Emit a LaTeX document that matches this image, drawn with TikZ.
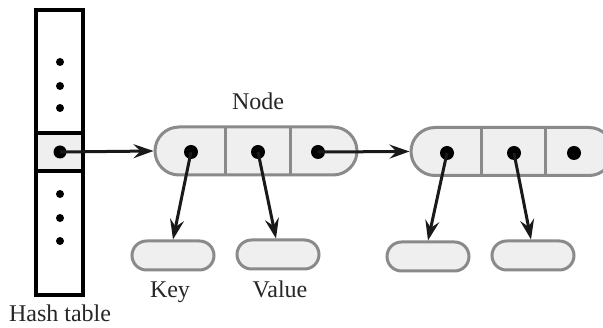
\documentclass[tikz,border=0pt]{standalone}
\usepackage{fontspec}
\setmainfont{Liberation Serif}
\usetikzlibrary{shapes.misc,arrows.meta}
\definecolor{cellfill}{HTML}{EFEFEF}
\definecolor{cellline}{HTML}{8A8A8A}
\tikzset{
  pill/.style={rounded rectangle, draw=cellline, fill=cellfill, line width=3pt, inner sep=0pt, minimum height=#1},
  pill/.default=48pt,
  dotn/.style={circle, fill=black, inner sep=0pt, minimum size=#1},
  arr/.style={line width=3pt, color={black!90}, -{Stealth[length=20pt,width=14pt,inset=7pt]}},
  lbl/.style={font=\fontsize{24}{28}\selectfont, anchor=base, text={black!85}},
  divider/.style={draw=cellline, line width=3pt}
}
\begin{document}
\begin{tikzpicture}[x=1pt,y=-1pt]
\clip (0,0) rectangle (603,328);
\fill[white] (0,0) rectangle (603,328);
% hash table
\node[draw=black, line width=3.5pt, minimum width=47pt, minimum height=285pt, inner sep=0pt] (ht) at (59.5,152.5) {};
\node[draw=black, fill=cellfill, line width=3.5pt, minimum width=47pt, minimum height=38pt, inner sep=0pt] (hc) at (59.5,152) {};
\foreach \y/\n in {62/a,86/b,108/c,194/d,218/e,241/f}
  \node[dotn=8pt] (hd\n) at (60,\y) {};
\node[dotn=13pt] (hd) at (60,152) {};
\node[lbl] (htl) at (60,322) {Hash table};
% node 1
\node[pill, minimum width=202pt] (n1) at (256,151) {};
\draw[divider] (225,127) -- (225,175);
\draw[divider] (290,127) -- (290,175);
\node[dotn=14pt] (d11) at (191,152) {};
\node[dotn=14pt] (d12) at (258,152) {};
\node[dotn=14pt] (d13) at (318,152) {};
\node[lbl] (nl) at (258,110) {Node};
% node 2
\node[pill, minimum width=202pt] (n2) at (512,151.5) {};
\draw[divider] (481,128) -- (481,175);
\draw[divider] (545,128) -- (545,175);
\node[dotn=14pt] (d21) at (447,153) {};
\node[dotn=14pt] (d22) at (514,153) {};
\node[dotn=14pt] (d23) at (574,153) {};
% key/value boxes
\node[pill=29pt, minimum width=82pt] (k1) at (173,255.5) {};
\node[pill=29pt, minimum width=82pt] (v1) at (278,254.5) {};
\node[pill=29pt, minimum width=82pt] (k2) at (428,256.5) {};
\node[pill=29pt, minimum width=82pt] (v2) at (533,255.5) {};
\node[lbl] (kl) at (170,298) {Key};
\node[lbl] (vl) at (280,298) {Value};
% connectors
\draw[arr] (hd.center) -- (n1.west);
\draw[arr] (d13.center) -- (n2.west);
\draw[arr] (d11.center) -- (k1.north);
\draw[arr] (d12.center) -- ([xshift=-2pt]v1.north);
\draw[arr] (d21.center) -- (k2.north);
\draw[arr] (d22.center) -- ([xshift=-2pt]v2.north);
\end{tikzpicture}
\end{document}
